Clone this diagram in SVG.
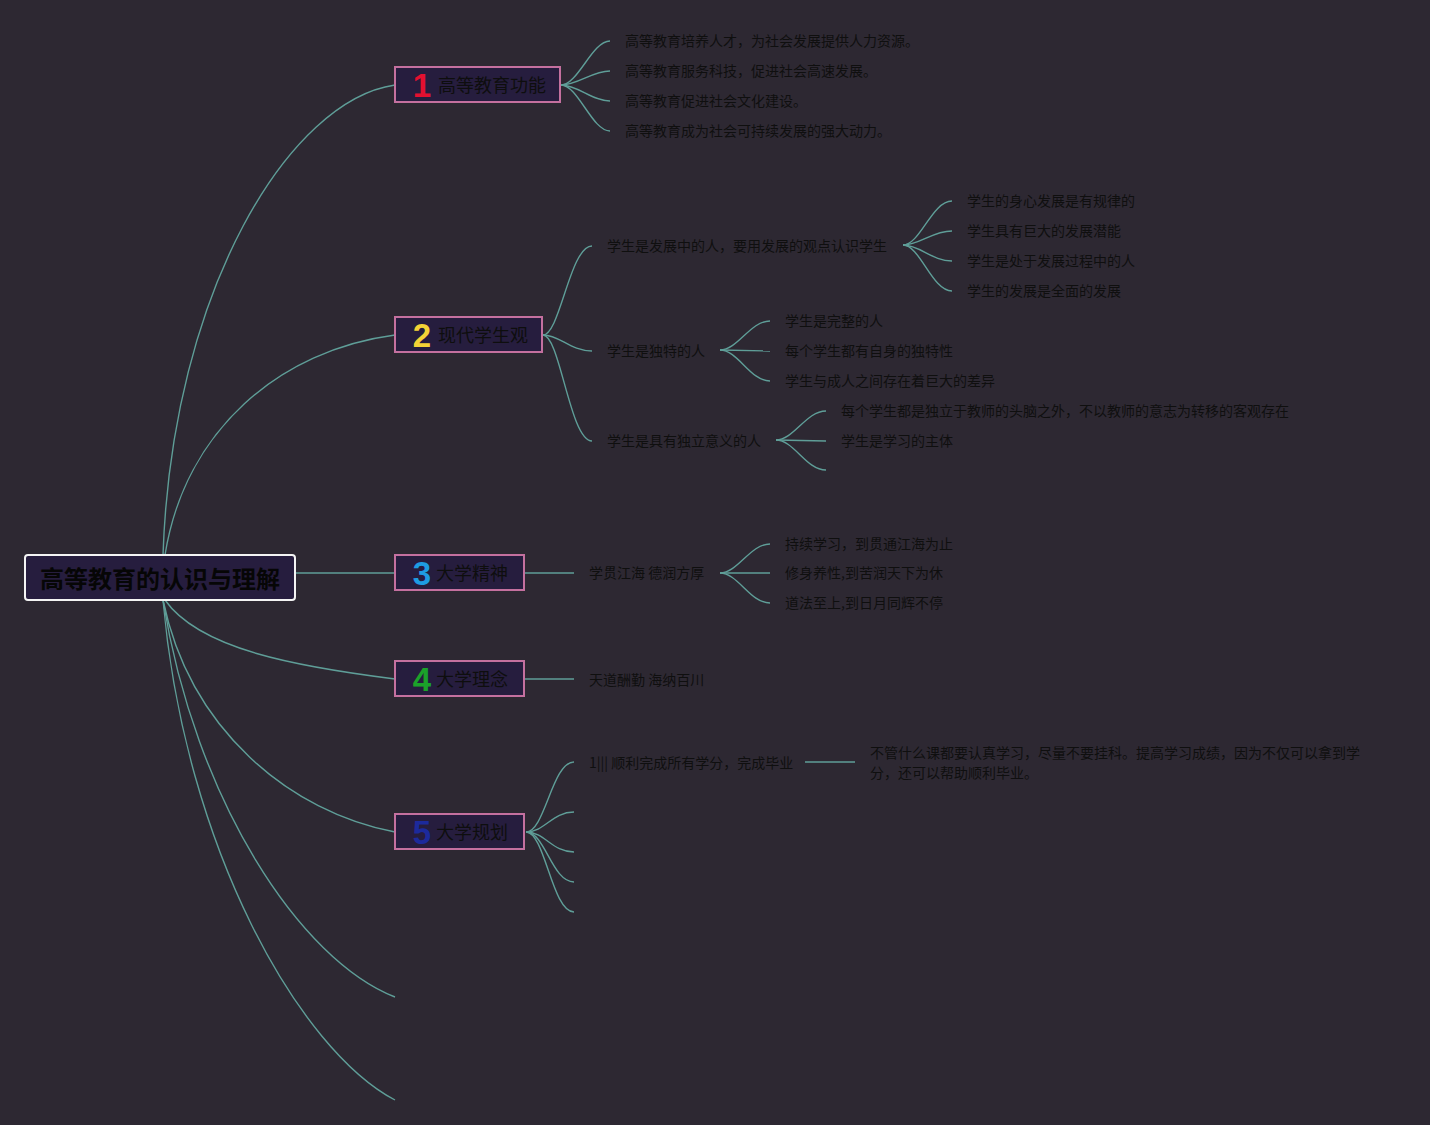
<svg xmlns="http://www.w3.org/2000/svg" width="1430" height="1125" viewBox="0 0 1430 1125">
<style>
.bg{fill:#2d2832}
.c{fill:none;stroke:#5f9e98;stroke-width:1.4}
.box{fill:#261d3e;stroke:#c4709f;stroke-width:2}
.lbl{font-family:"Noto Sans CJK SC","Noto Sans",sans-serif;font-size:18px;fill:#0e0e0e}
.num{font-family:"Liberation Sans",Roboto,sans-serif;font-size:33px;font-weight:bold;text-anchor:middle}
.t{font-family:"Noto Sans CJK SC","Noto Sans",sans-serif;font-size:14px;fill:#0f0f0f}
.root{font-family:"Noto Sans CJK SC","Noto Sans",sans-serif;font-size:24px;font-weight:bold;fill:#060606;text-anchor:middle}
</style>
<rect class="bg" x="0" y="0" width="1430" height="1125"/>
<g id="connectors">
<path class="c" d="M163,555 C172,290 290,100 395,85"/>
<path class="c" d="M165,555 C185,430 280,350 395,335"/>
<path class="c" d="M295,573 L395,573"/>
<path class="c" d="M165,600 C200,650 300,667 395,679"/>
<path class="c" d="M163,600 C190,730 290,812 395,832"/>
<path class="c" d="M163,600 C195,800 300,960 395,997"/>
<path class="c" d="M163,600 C185,850 300,1050 395,1100"/>
<path class="c" d="M561,85 C578,85 592,41 610,41"/>
<path class="c" d="M561,85 C578,85 592,71 610,71"/>
<path class="c" d="M561,85 C578,85 592,101 610,101"/>
<path class="c" d="M561,85 C578,85 592,131 610,131"/>
<path class="c" d="M543,335 C560,335 570,246 592,246"/>
<path class="c" d="M543,335 C560,335 570,351 592,351"/>
<path class="c" d="M543,335 C560,335 570,441 592,441"/>
<path class="c" d="M903,245 C920,245 932,201 952,201"/>
<path class="c" d="M903,245 C920,245 932,231 952,231"/>
<path class="c" d="M903,245 C920,245 932,261 952,261"/>
<path class="c" d="M903,245 C920,245 932,291 952,291"/>
<path class="c" d="M720,350 C738,350 750,321 770,321"/>
<path class="c" d="M720,350 L770,351"/>
<path class="c" d="M720,350 C738,350 750,381 770,381"/>
<path class="c" d="M776,440 C794,440 806,411 826,411"/>
<path class="c" d="M776,440 L826,441"/>
<path class="c" d="M776,440 C794,440 806,470 826,470"/>
<path class="c" d="M524,573 L574,573"/>
<path class="c" d="M720,573 C738,573 750,544 770,544"/>
<path class="c" d="M720,573 L770,573"/>
<path class="c" d="M720,573 C738,573 750,603 770,603"/>
<path class="c" d="M524,679 L574,679"/>
<path class="c" d="M526,832 C545,832 552,762 574,762"/>
<path class="c" d="M526,832 C545,832 552,812 574,812"/>
<path class="c" d="M526,832 C545,832 552,852 574,852"/>
<path class="c" d="M526,832 C545,832 552,882 574,882"/>
<path class="c" d="M526,832 C545,832 552,912 574,912"/>
<path class="c" d="M805,762 L855,762"/>
</g>
<g id="root">
<rect x="25" y="555" width="270" height="45" rx="3" fill="#261d3e" stroke="#f4f4f4" stroke-width="2"/>
<text class="root" x="160" y="588">高等教育的认识与理解</text>
</g>
<g id="n1">
<rect class="box" x="395" y="67" width="165" height="35"/>
<text class="num" x="422" y="97" fill="#e31030">1</text>
<text class="lbl" x="438" y="92">高等教育功能</text>
</g>
<g id="n1a"><text class="t" x="625" y="46">高等教育培养人才，为社会发展提供人力资源。</text></g>
<g id="n1b"><text class="t" x="625" y="76">高等教育服务科技，促进社会高速发展。</text></g>
<g id="n1c"><text class="t" x="625" y="106">高等教育促进社会文化建设。</text></g>
<g id="n1d"><text class="t" x="625" y="136">高等教育成为社会可持续发展的强大动力。</text></g>
<g id="n2">
<rect class="box" x="395" y="317" width="147" height="35"/>
<text class="num" x="422" y="347" fill="#f4d236">2</text>
<text class="lbl" x="438" y="342">现代学生观</text>
</g>
<g id="n2a"><text class="t" x="607" y="251">学生是发展中的人，要用发展的观点认识学生</text></g>
<g id="n2a1"><text class="t" x="967" y="206">学生的身心发展是有规律的</text></g>
<g id="n2a2"><text class="t" x="967" y="236">学生具有巨大的发展潜能</text></g>
<g id="n2a3"><text class="t" x="967" y="266">学生是处于发展过程中的人</text></g>
<g id="n2a4"><text class="t" x="967" y="296">学生的发展是全面的发展</text></g>
<g id="n2b"><text class="t" x="607" y="356">学生是独特的人</text></g>
<g id="n2b1"><text class="t" x="785" y="326">学生是完整的人</text></g>
<g id="n2b2"><text class="t" x="785" y="356">每个学生都有自身的独特性</text></g>
<g id="n2b3"><text class="t" x="785" y="386">学生与成人之间存在着巨大的差异</text></g>
<g id="n2c"><text class="t" x="607" y="446">学生是具有独立意义的人</text></g>
<g id="n2c1"><text class="t" x="841" y="416">每个学生都是独立于教师的头脑之外，不以教师的意志为转移的客观存在</text></g>
<g id="n2c2"><text class="t" x="841" y="446">学生是学习的主体</text></g>
<g id="n3">
<rect class="box" x="395" y="555" width="129" height="35"/>
<text class="num" x="422" y="585" fill="#1e9ce2">3</text>
<text class="lbl" x="436" y="580">大学精神</text>
</g>
<g id="n3a"><text class="t" x="589" y="578">学贯江海 德润方厚</text></g>
<g id="n3a1"><text class="t" x="785" y="549">持续学习，到贯通江海为止</text></g>
<g id="n3a2"><text class="t" x="785" y="578">修身养性,到苦润天下为休</text></g>
<g id="n3a3"><text class="t" x="785" y="608">道法至上,到日月同辉不停</text></g>
<g id="n4">
<rect class="box" x="395" y="661" width="129" height="35"/>
<text class="num" x="422" y="691" fill="#1ba22a">4</text>
<text class="lbl" x="436" y="686">大学理念</text>
</g>
<g id="n4a"><text class="t" x="589" y="685">天道酬勤 海纳百川</text></g>
<g id="n5">
<rect class="box" x="395" y="814" width="129" height="35"/>
<text class="num" x="422" y="844" fill="#1c2a9c">5</text>
<text class="lbl" x="436" y="839">大学规划</text>
</g>
<g id="n5a"><text class="t" x="589" y="768">1||| 顺利完成所有学分，完成毕业</text></g>
<g id="n5a1"><text class="t" x="870" y="758">不管什么课都要认真学习，尽量不要挂科。提高学习成绩，因为不仅可以拿到学</text><text class="t" x="870" y="778">分，还可以帮助顺利毕业。</text></g>
</svg>
